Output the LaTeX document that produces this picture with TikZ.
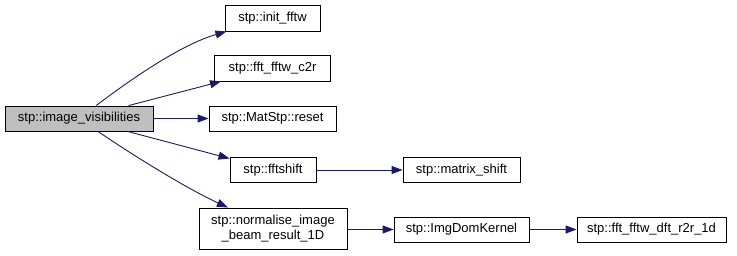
\documentclass[tikz,border=0pt]{standalone}
\usepackage{fontspec}
\setmainfont{Liberation Sans}
\usetikzlibrary{arrows.meta}
\definecolor{edgeblue}{HTML}{191970}
\definecolor{rootgray}{HTML}{BFBFBF}
\begin{document}
\begin{tikzpicture}[x=1pt,y=-1pt,
  fn/.style={draw=black, line width=0.9pt, fill=white, rectangle, inner sep=0pt,
    minimum height=25pt, font=\fontsize{13}{15}\selectfont, align=center},
  call/.style={draw=edgeblue, line width=0.9pt, -{Triangle[length=11pt,width=8pt]}}]
  \useasboundingbox (0,0) rectangle (737,255);
  % nodes
  \node[fn, fill=rootgray, minimum width=148pt] (iv) at (79,118.5) {stp::image\_visibilities};
  \node[fn, minimum width=95pt, minimum height=26pt] (init) at (272.5,18) {stp::init\_fftw};
  \node[fn, minimum width=116pt, minimum height=26pt] (c2r) at (272.5,68) {stp::fft\_fftw\_c2r};
  \node[fn, minimum width=127pt] (reset) at (272.5,118.5) {stp::MatStp::reset};
  \node[fn, minimum width=86pt] (shift) at (273,170) {stp::fftshift};
  \node[fn, minimum width=148pt, minimum height=41pt] (norm) at (273,228.5) {stp::normalise\_image\\\_beam\_result\_1D};
  \node[fn, minimum width=117pt] (mshift) at (461.5,170) {stp::matrix\_shift};
  \node[fn, minimum width=135pt] (kern) at (461.5,229.5) {stp::ImgDomKernel};
  \node[fn, minimum width=149pt] (r2r) at (651.5,229.5) {stp::fft\_fftw\_dft\_r2r\_1d};
  % calls
  \draw[call] (iv) .. controls (130,80) and (180,45) .. (init);
  \draw[call] (iv) -- (c2r);
  \draw[call] (iv) -- (reset);
  \draw[call] (iv) -- (shift);
  \draw[call] (iv) .. controls (140,160) and (190,190) .. (norm);
  \draw[call] (shift) -- (mshift);
  \draw[call] (norm.east |- kern) -- (kern);
  \draw[call] (kern) -- (r2r);
\end{tikzpicture}
\end{document}
